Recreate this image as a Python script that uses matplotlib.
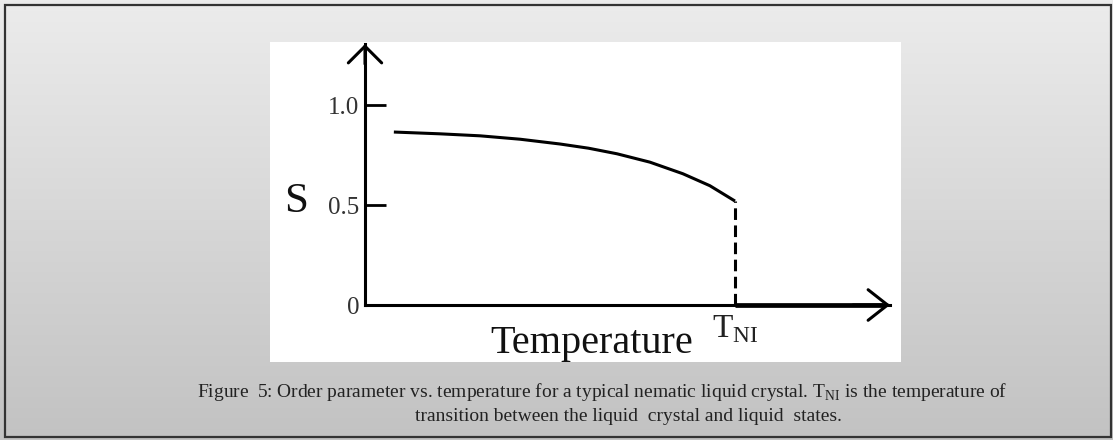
import numpy as np
import matplotlib
matplotlib.use('Agg')
import matplotlib.pyplot as plt
from matplotlib.patches import Rectangle
from matplotlib.colors import LinearSegmentedColormap

plt.rcParams['font.family'] = ['Liberation Serif', 'DejaVu Serif']
plt.rcParams['mathtext.fontset'] = 'custom'
plt.rcParams['mathtext.rm'] = 'Liberation Serif'

# order parameter S vs T/T_NI
t_vals = [0.078, 0.203, 0.311, 0.419, 0.527, 0.604, 0.681, 0.770, 0.859, 0.932, 1.0]
s_vals = [0.867, 0.858, 0.848, 0.831, 0.807, 0.786, 0.758, 0.716, 0.658, 0.598, 0.521]
t_ni = 1.0
t_end = 1.419   # arrow tip of temperature axis
s_top = 1.308   # arrow tip of S axis
ytick_pos = [0, 0.5, 1.0]
ytick_lab = ['0', '0.5', '1.0']

cap1 = 'Figure  5: Order parameter vs. temperature for a typical nematic liquid crystal. T$_{\\rm NI}$ is the temperature of'
cap2 = 'transition between the liquid  crystal and liquid  states.'

W, H = 1113, 440
fig = plt.figure(figsize=(W / 100, H / 100), dpi=100)

# gray gradient background + frame
bg = fig.add_axes([0, 0, 1, 1])
grays = LinearSegmentedColormap.from_list('bg', ['#ececec', '#c2c2c2'])
grad = np.linspace(0, 1, 256).reshape(-1, 1)
bg.imshow(grad, extent=(0, W, H, 0), aspect='auto', cmap=grays)
bg.set_xlim(0, W)
bg.set_ylim(H, 0)
bg.axis('off')
bg.add_patch(Rectangle((5, 5), 1106, 432, fill=False, ec='#333333', lw=1.6))

# chart panel (white box)
x0, x1, y0, y1 = 270, 901, 42, 362
ax = fig.add_axes([x0 / W, 1 - y1 / H, (x1 - x0) / W, (y1 - y0) / H])
ax.set_facecolor('white')
ax.set_xlim(-95 / 370, 536 / 370)
ax.set_ylim(-57 / 199.5, 263 / 199.5)

for k in ['top', 'right']:
    ax.spines[k].set_visible(False)
ax.spines['left'].set_position(('data', 0))
ax.spines['bottom'].set_position(('data', 0))
ax.spines['left'].set_bounds(0, s_top)
ax.spines['bottom'].set_bounds(0, t_end)
ax.spines['left'].set_linewidth(2.2)
ax.spines['bottom'].set_linewidth(2.2)

ax.set_yticks(ytick_pos)
ax.set_yticklabels(ytick_lab)
ax.tick_params(axis='y', direction='in', length=15, width=2, pad=4,
               labelsize=18, labelcolor='#333333')
ax.set_xticks([t_ni])
ax.set_xticklabels(['T$_{\\rm NI}$'])
ax.tick_params(axis='x', length=0, pad=6, labelsize=24, labelcolor='#222222')

# arrow heads
ax.annotate('', xy=(0, s_top), xytext=(0, s_top - 0.1),
            arrowprops=dict(arrowstyle='->,head_length=0.6,head_width=0.6',
                            lw=2.2, color='black', shrinkA=0, shrinkB=0,
                            mutation_scale=20))
ax.annotate('', xy=(t_end, 0), xytext=(t_end - 0.1, 0),
            arrowprops=dict(arrowstyle='->,head_length=0.7,head_width=0.55',
                            lw=2.2, color='black', shrinkA=0, shrinkB=0,
                            mutation_scale=20))

ax.plot(t_vals, s_vals, color='black', lw=2.2, solid_capstyle='butt',
        solid_joinstyle='round')
ax.plot([t_ni, t_ni], [0, s_vals[-1]], color='black', lw=2.2,
        ls=(0, (3.8, 1.8)))
ax.plot([t_ni, t_end - 0.02], [0, 0], color='black', lw=3.4,
        solid_capstyle='butt')

ax.set_xlabel('Temperature', fontsize=29, color='#111111', va='center')
ax.xaxis.set_label_coords((592 - x0) / (x1 - x0), (y1 - 343) / (y1 - y0))
ax.set_ylabel('S', fontsize=31, rotation=0, color='#111111', va='center',
              ha='center')
ax.yaxis.set_label_coords((296 - x0) / (x1 - x0), (y1 - 202) / (y1 - y0))

fig.text(602 / W, 1 - 392 / H, cap1, ha='center', va='center',
         fontsize=14, color='#222222')
fig.text(628 / W, 1 - 416 / H, cap2, ha='center', va='center',
         fontsize=14, color='#222222')

fig.savefig('out.png', dpi=100)
